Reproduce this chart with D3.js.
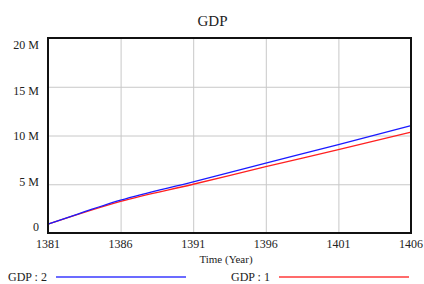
<!DOCTYPE html>
<html>
<head>
<meta charset="utf-8">
<script src="https://cdn.jsdelivr.net/npm/d3@7"></script>
<style>
  body { margin: 0; background: #fff; }
  svg text { font-family: "Liberation Serif", "Times New Roman", serif; fill: #222; }
  .grid line { stroke: #c8c8c8; stroke-width: 1; }
  .grid path { display: none; }
</style>
</head>
<body>
<div id="chart"></div>
<script>
// data
var years = [1381, 1383, 1386, 1391, 1396, 1401, 1406];
var gdp2 = [0.9e6, 1.92e6, 3.36e6, 5.24e6, 7.16e6, 9.07e6, 11.02e6];
var gdp1 = [0.9e6, 1.88e6, 3.24e6, 5.0e6, 6.8e6, 8.55e6, 10.34e6];
var xTicks = [1381, 1386, 1391, 1396, 1401, 1406];
var yTicks = [0, 5e6, 10e6, 15e6, 20e6];
var yTickLabels = ["0", "5 M", "10 M", "15 M", "20 M"];

var W = 424, H = 284;
// plot box (window.top is read-only, so no plain "top" here)
var plotL = 48, plotR = 411, plotT = 38, plotB = 233;

var svg = d3.select("#chart").append("svg")
    .attr("width", W)
    .attr("height", H);

var x = d3.scaleLinear().domain([1381, 1406]).range([plotL, plotR]);
var y = d3.scaleLinear().domain([0, 20e6]).range([plotB, plotT]);
// labels in the original sit on a slightly squeezed scale
var yLab = d3.scaleLinear().domain([0, 20e6]).range([227, 45]);

// grid
svg.append("g")
    .attr("class", "grid")
    .attr("transform", "translate(0," + plotB + ")")
    .call(d3.axisBottom(x).tickValues(xTicks).tickSize(-(plotB - plotT)).tickFormat(""));

svg.append("g")
    .attr("class", "grid")
    .attr("transform", "translate(" + plotL + ",0)")
    .call(d3.axisLeft(y).tickValues(yTicks).tickSize(-(plotR - plotL)).tickFormat(""));

// tick labels
svg.append("g").selectAll("text")
    .data(xTicks)
    .enter().append("text")
    .attr("x", function(d) { return x(d); })
    .attr("y", 248)
    .attr("text-anchor", "middle")
    .style("font-size", "12px")
    .text(function(d) { return d; });

svg.append("g").selectAll("text")
    .data(yTicks)
    .enter().append("text")
    .attr("x", 39)
    .attr("y", function(d) { return yLab(d) + 4; })
    .attr("text-anchor", "end")
    .style("font-size", "12px")
    .text(function(d, i) { return yTickLabels[i]; });

// series
var line = d3.line()
    .x(function(d) { return x(d[0]); })
    .y(function(d) { return y(d[1]); })
    .curve(d3.curveMonotoneX);

svg.append("path")
    .datum(years.map(function(yr, i) { return [yr, gdp1[i]]; }))
    .attr("d", line)
    .attr("fill", "none")
    .attr("stroke", "#ff2020")
    .attr("stroke-width", 1.3);

svg.append("path")
    .datum(years.map(function(yr, i) { return [yr, gdp2[i]]; }))
    .attr("d", line)
    .attr("fill", "none")
    .attr("stroke", "#1a1aff")
    .attr("stroke-width", 1.3);

// frame
svg.append("rect")
    .attr("x", plotL)
    .attr("y", plotT)
    .attr("width", plotR - plotL)
    .attr("height", plotB - plotT)
    .attr("fill", "none")
    .attr("stroke", "#111")
    .attr("stroke-width", 2);

// titles
svg.append("text")
    .attr("x", 212.5)
    .attr("y", 26)
    .attr("text-anchor", "middle")
    .style("font-size", "15px")
    .text("GDP");

svg.append("text")
    .attr("x", 226)
    .attr("y", 263)
    .attr("text-anchor", "middle")
    .style("font-size", "11px")
    .text("Time (Year)");

// legend
var legend = [
    {name: "GDP : 2", color: "#3a3aff", tx: 8, x1: 56, x2: 186},
    {name: "GDP : 1", color: "#ff3a3a", tx: 231, x1: 279, x2: 409}
];

legend.forEach(function(l) {
    svg.append("text")
        .attr("x", l.tx)
        .attr("y", 281)
        .style("font-size", "12px")
        .text(l.name);
    svg.append("line")
        .attr("x1", l.x1)
        .attr("x2", l.x2)
        .attr("y1", 277)
        .attr("y2", 277)
        .attr("stroke", l.color)
        .attr("stroke-width", 1.3);
});
</script>
</body>
</html>
